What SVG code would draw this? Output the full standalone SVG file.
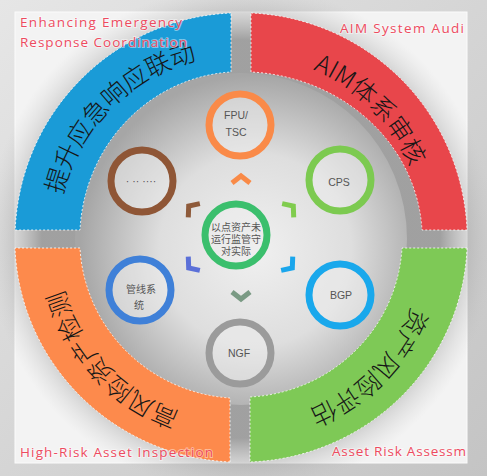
<svg xmlns="http://www.w3.org/2000/svg" width="487" height="476" viewBox="0 0 487 476">
<defs>
<linearGradient id="bgOuter" x1="0" y1="0" x2="1" y2="1">
<stop offset="0" stop-color="#e6e6e6"/><stop offset="1" stop-color="#c4c4c4"/>
</linearGradient>
<radialGradient id="halo" cx="241" cy="239" r="262" gradientUnits="userSpaceOnUse">
<stop offset="0.76" stop-color="#7d7d7d" stop-opacity="0.7"/>
<stop offset="0.87" stop-color="#9a9a9a" stop-opacity="0.3"/>
<stop offset="0.97" stop-color="#bbbbbb" stop-opacity="0"/>
</radialGradient>
<radialGradient id="disk" cx="255" cy="250" r="175" gradientUnits="userSpaceOnUse">
<stop offset="0" stop-color="#f0f0f0"/>
<stop offset="0.55" stop-color="#dedede"/>
<stop offset="1" stop-color="#a6a6a6"/>
</radialGradient>
<path id="tpBlue" d="M57,239 A184,184 0 0 1 241,55"/>
<path id="tpRed" d="M241,55 A184,184 0 0 1 425,239"/>
<path id="tpGreen" d="M425,239 A184,184 0 0 1 241,423"/>
<path id="tpOrange" d="M241,423 A184,184 0 0 1 57,239"/>
</defs>
<style>
.band{stroke:#ffffff;stroke-width:1;stroke-dasharray:2 2;stroke-opacity:0.8}
.arcText{font-family:"Noto Sans CJK SC","Noto Sans",sans-serif;font-size:25px;font-weight:300;fill:#161616}
.label{font-family:"Open Sans","Liberation Sans",sans-serif;font-size:13.5px;fill:#ee4b5f;stroke:#ffffff;stroke-opacity:0.45;stroke-width:2;paint-order:stroke}
.ring{fill:#ececec;fill-opacity:0.55;stroke-width:7}
.small{font-family:"Liberation Sans","Noto Sans CJK SC",sans-serif;font-size:10.5px;fill:#555;text-anchor:middle}
.cjk{font-family:"Noto Sans CJK SC",sans-serif;font-size:10px;fill:#555;text-anchor:middle}
.chev{fill:none;stroke-width:5;stroke-linejoin:miter;stroke-linecap:butt}
</style>
<rect width="487" height="476" fill="url(#bgOuter)"/>
<rect x="15" y="12" width="452" height="451" fill="#f3f3f3" stroke="#fbfbfb" stroke-width="1"/>
<circle cx="241" cy="239" r="262" fill="url(#halo)"/>
<circle cx="241" cy="239" r="166" fill="url(#disk)"/>

<g id="quadrant-blue">
<path class="band" fill="#1a9bd7" d="M231,13 A226,226 0 0 0 15.2,230 L80,230 A161,167 0 0 1 231,72 Z"/>
<text class="arcText"><textPath href="#tpBlue" startOffset="50%" text-anchor="middle">提升应急响应联动</textPath></text>
<text class="label" x="20" y="27" textLength="162">Enhancing Emergency</text>
<text class="label" x="20" y="47" textLength="167">Response Coordination</text>
</g>
<g id="quadrant-red">
<path class="band" fill="#e8464b" d="M251,13 A226,226 0 0 1 467,230 L422,230 A181,167 0 0 0 251,72 Z"/>
<text class="arcText"><textPath href="#tpRed" startOffset="50%" text-anchor="middle">AIM体系审核</textPath></text>
<text class="label" x="340" y="33" textLength="124">AIM System Audi</text>
</g>
<g id="quadrant-green">
<path class="band" fill="#7ec956" d="M467,248 A226,223 0 0 1 250,462 L250,397 A161,158 0 0 0 402,248 Z"/>
<text class="arcText"><textPath href="#tpGreen" startOffset="50%" text-anchor="middle">资产风险评估</textPath></text>
<text class="label" x="332" y="456" textLength="134">Asset Risk Assessm</text>
</g>
<g id="quadrant-orange">
<path class="band" fill="#fd8a4c" d="M230,462 A226,223 0 0 1 15,248 L80,248 A161,159 0 0 0 230,398 Z"/>
<text class="arcText"><textPath href="#tpOrange" startOffset="52%" text-anchor="middle">高风险资产检测</textPath></text>
<text class="label" x="20" y="457" textLength="193">High-Risk Asset Inspection</text>
</g>

<g id="connectors">
<path class="chev" stroke="#f98a47" d="M232,183 L241,176 L250,183"/>
<path class="chev" stroke="#80cc4e" transform="rotate(50 291 208)" d="M282,212 L291,205 L300,212"/>
<path class="chev" stroke="#1aa6ec" transform="rotate(130 290 266)" d="M281,270 L290,263 L299,270"/>
<path class="chev" stroke="#7a9a84" transform="rotate(180 241 296)" d="M232,300 L241,293 L250,300"/>
<path class="chev" stroke="#5b70d8" transform="rotate(230 191 266)" d="M182,270 L191,263 L200,270"/>
<path class="chev" stroke="#8e5a3a" transform="rotate(310 191 208)" d="M182,212 L191,205 L200,212"/>
</g>

<g id="node-center">
<circle class="ring" cx="236" cy="235" r="31" stroke="#3bbf6d" stroke-width="6"/>
<text class="cjk" x="236" y="230.5" font-size="9.5">以点资产未</text>
<text class="cjk" x="236" y="242.5" font-size="9.5">运行监管守</text>
<text class="cjk" x="236" y="255" font-size="9.5">对实际</text>
</g>
<g id="node-fpu">
<circle class="ring" cx="240" cy="125" r="31" stroke="#fa8a48"/>
<text class="small" x="236" y="119">FPU/</text>
<text class="small" x="236" y="136">TSC</text>
</g>
<g id="node-cps">
<circle class="ring" cx="340" cy="180" r="31" stroke="#7cca50"/>
<text class="small" x="339" y="186">CPS</text>
</g>
<g id="node-bgp">
<circle class="ring" cx="340" cy="295" r="31" stroke="#19a8ec"/>
<text class="small" x="341" y="299">BGP</text>
</g>
<g id="node-ngf">
<circle class="ring" cx="240" cy="353" r="31" stroke="#9b9b9b"/>
<text class="small" x="239" y="357">NGF</text>
</g>
<g id="node-pipeline">
<circle class="ring" cx="140" cy="290" r="31" stroke="#3f80d8"/>
<text class="cjk" x="141" y="293" font-size="10.5">管线系</text>
<text class="cjk" x="139" y="309" font-size="10.5">统</text>
</g>
<g id="node-brown">
<circle class="ring" cx="142" cy="181" r="31" stroke="#8f5636"/>
<text class="small" x="141" y="185" font-size="4">· ·· ····</text>
</g>
</svg>
